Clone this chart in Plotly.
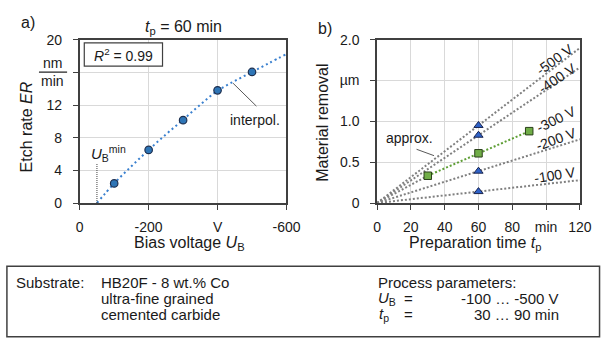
import plotly.graph_objects as go

W, H = 615, 338
FONT = "Liberation Sans, Arial, sans-serif"

# ---------------- data ----------------
# a) etch rate vs bias voltage (t_p = 60 min)
bias_meas = [-100, -200, -300, -400, -500]
er_meas = [2.4, 6.5, 10.15, 13.8, 16.05]
bias_interp = [-50, -100, -150, -200, -250, -300, -350, -400, -450, -500, -550, -600]
er_interp = [0.0, 2.4, 4.5, 6.5, 8.4, 10.2, 12.05, 13.75, 14.95, 16.05, 17.15, 18.25]
ub_min = -50
ub_min_line = [0, 4.85]
a_xticks = [0, -200, -400, -600]
a_xticktext = ["0", "-200", "V", "-600"]
a_yticks = [0, 4, 8, 12, 16, 20]
a_yticktext = ["0", "4", "8", "12", "", "20"]

# b) material removal vs preparation time
tri_time = [60, 60, 60, 60]
tri_removal = [0.14, 0.39, 0.83, 0.95]          # -100, -200, -400, -500 V
approx_time = [0, 60, 120]
approx_lines = {                                  # straight approximations through origin
    "-100 V": [0, 0.14, 0.28],
    "-200 V": [0, 0.39, 0.78],
    "-400 V": [0, 0.83, 1.66],
    "-500 V": [0, 0.95, 1.90],
}
sq_time = [30, 60, 90]                            # -300 V series
sq_removal = [0.334, 0.609, 0.88]
b_xticks = [0, 20, 40, 60, 80, 100, 120]
b_xticktext = ["0", "20", "40", "60", "80", "min", "120"]
b_yticks = [0, 0.5, 1.0, 1.5, 2.0]
b_yticktext = ["0", "0.5", "1.0", "µm", "2.0"]


def px(x):
    return x / W


def py(y):
    return 1 - y / H


fig = go.Figure()

# ---- panel a ----
fig.add_trace(go.Scatter(x=bias_interp, y=er_interp, mode="lines", line_shape="spline",
                         line=dict(color="#3A80CF", width=2, dash="2px,3px"),
                         xaxis="x", yaxis="y", hoverinfo="skip"))
fig.add_trace(go.Scatter(x=[ub_min, ub_min], y=ub_min_line, mode="lines",
                         line=dict(color="#404040", width=1, dash="1px,1px"),
                         xaxis="x", yaxis="y", hoverinfo="skip"))
fig.add_trace(go.Scatter(x=bias_meas, y=er_meas, mode="markers",
                         marker=dict(symbol="circle", size=7.5, color="#2E75B6",
                                     line=dict(color="#1F3050", width=1.2)),
                         xaxis="x", yaxis="y"))

# ---- panel b ----
for name, vals in approx_lines.items():
    fig.add_trace(go.Scatter(x=approx_time, y=vals, mode="lines",
                             line=dict(color="#808080", width=2, dash="2px,2px"),
                             xaxis="x2", yaxis="y2", hoverinfo="skip"))
fig.add_trace(go.Scatter(x=[0, sq_time[0]], y=[0, sq_removal[0]], mode="lines",
                         line=dict(color="#808080", width=2, dash="2px,2px"),
                         xaxis="x2", yaxis="y2", hoverinfo="skip"))
fig.add_trace(go.Scatter(x=sq_time, y=sq_removal, mode="lines",
                         line=dict(color="#5E9E35", width=2, dash="2px,2px"),
                         xaxis="x2", yaxis="y2", hoverinfo="skip"))
fig.add_trace(go.Scatter(x=tri_time, y=tri_removal, mode="markers",
                         marker=dict(symbol="triangle-up", size=8, color="#2F62C8",
                                     line=dict(color="#1A2550", width=1)),
                         xaxis="x2", yaxis="y2"))
fig.add_trace(go.Scatter(x=sq_time, y=sq_removal, mode="markers",
                         marker=dict(symbol="square", size=7.5, color="#70AD47",
                                     line=dict(color="#2A3F1A", width=1)),
                         xaxis="x2", yaxis="y2"))

y_dom = [py(204.7), py(33.3)]
axis_common = dict(showline=True, linecolor="#404040", linewidth=1.5, mirror=True,
                   showgrid=True, gridcolor="#D9D9D9", gridwidth=1,
                   ticks="outside", ticklen=5, tickcolor="#404040", tickwidth=1.2,
                   tickfont=dict(family=FONT, size=14, color="#1a1a1a"),
                   zeroline=False, fixedrange=True)

fig.update_layout(
    width=W, height=H, margin=dict(l=0, r=0, t=0, b=0),
    paper_bgcolor="white", plot_bgcolor="white", showlegend=False,
    font=dict(family=FONT, size=14, color="#1a1a1a"),
    xaxis=dict(domain=[px(78), px(291)], range=[0, -600], tickvals=a_xticks,
               ticktext=a_xticktext, anchor="y", ticklabelstandoff=5, **axis_common),
    yaxis=dict(domain=y_dom, range=[0, 20], tickvals=a_yticks, ticktext=a_yticktext,
               anchor="x", ticklabelstandoff=8, **axis_common),
    xaxis2=dict(domain=[px(384.3), px(593.3)], range=[0, 120], tickvals=b_xticks,
                ticktext=b_xticktext, anchor="y2", ticklabelstandoff=5, **axis_common),
    yaxis2=dict(domain=y_dom, range=[0, 2.0], tickvals=b_yticks, ticktext=b_yticktext,
                anchor="x2", ticklabelstandoff=8, **axis_common),
)

ann = []


def text(x, y, s, size=14, xanchor="center", yanchor="middle", angle=0):
    ann.append(dict(x=px(x), y=py(y), xref="paper", yref="paper", text=s, showarrow=False,
                    xanchor=xanchor, yanchor=yanchor, textangle=angle,
                    font=dict(family=FONT, size=size, color="#1a1a1a")))


text(25, 15, "a)", 16)
text(331, 21, "b)", 16)
text(185, 20, "<i>t</i><sub>p</sub> = 60 min", 16)
text(23, 125, "Etch rate <i>ER</i>", 16, angle=-90)
text(191, 247, "Bias voltage <i>U</i><sub>B</sub>", 16)
text(328, 120, "Material removal", 16, angle=-90)
text(486, 247, "Preparation time <i>t</i><sub>p</sub>", 16)
text(50, 58, "nm", 14)
text(50, 77, "min", 14)
text(123, 49, "<i>R</i><sup>2</sup> = 0.99", 14)
text(259, 118, "interpol.", 14)
text(88, 153, "<i>U</i><sub>B</sub><sup>min</sup>", 15, xanchor="left")
text(418, 136, "approx.", 14)
text(568, 54, "-500 V", 14, angle=-36)
text(570, 73, "-400 V", 14, angle=-34)
text(569, 116, "-300 V", 14, angle=-26)
text(569, 137, "-200 V", 14, angle=-20)
text(568, 175, "-100 V", 14, angle=-9)

# bottom box text
rows = [288, 305, 322]
BF = 15
text(10, rows[0], "Substrate:", BF, xanchor="left")
text(98, rows[0], "HB20F - 8 wt.% Co", BF, xanchor="left")
text(98, rows[1], "ultra-fine grained", BF, xanchor="left")
text(98, rows[2], "cemented carbide", BF, xanchor="left")
text(383, rows[0], "Process parameters:", BF, xanchor="left")
text(383, rows[1], "<i>U</i><sub>B</sub>", BF, xanchor="left")
text(384, rows[2], "<i>t</i><sub>p</sub>", BF, xanchor="left")
text(410, rows[1], "=", BF, xanchor="left")
text(410, rows[2], "=", BF, xanchor="left")
text(574, rows[1], "-100 … -500 V", BF, xanchor="right")
text(574, rows[2], "30 … 90 min", BF, xanchor="right")

fig.update_layout(annotations=ann)

shapes = [
    # nm/min fraction bar
    dict(type="line", xref="paper", yref="paper", x0=px(36), x1=px(65), y0=py(67.3), y1=py(67.3),
         line=dict(color="#1a1a1a", width=1.2)),
    # R^2 box
    dict(type="rect", xref="paper", yref="paper", x0=px(82.7), x1=px(163.3), y0=py(61), y1=py(36.7),
         line=dict(color="#404040", width=1.2), fillcolor="white"),
    # interpol. pointer
    dict(type="line", xref="paper", yref="paper", x0=px(236), x1=px(260), y0=py(79), y1=py(103),
         line=dict(color="#595959", width=1)),
    # approx. pointer
    dict(type="line", xref="paper", yref="paper", x0=px(425), x1=px(443), y0=py(148.3), y1=py(155),
         line=dict(color="#595959", width=1)),
    # bottom info box
    dict(type="rect", xref="paper", yref="paper", x0=px(3), x1=px(613.5), y0=py(345), y1=py(271),
         line=dict(color="#404040", width=1.5)),
]
fig.update_layout(shapes=shapes)

fig.write_html("out.html")
